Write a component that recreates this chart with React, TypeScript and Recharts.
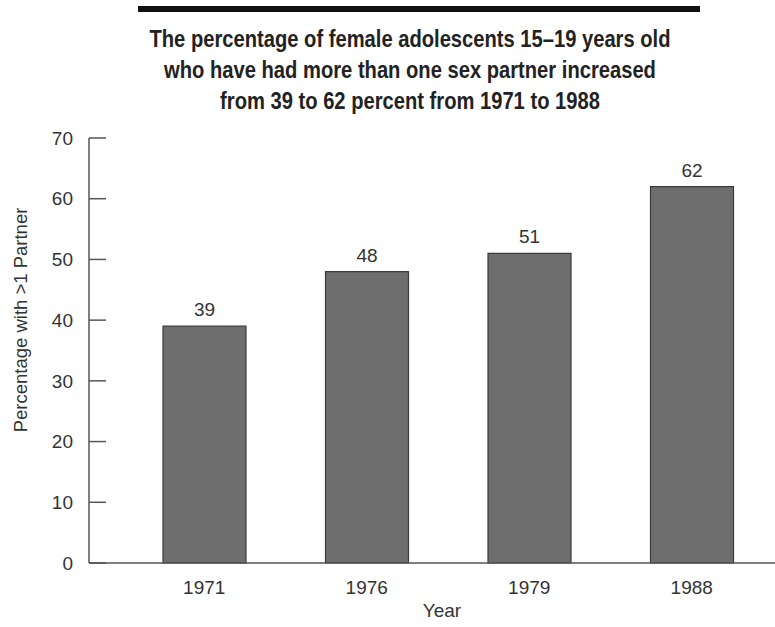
import { BarChart, Bar, XAxis, YAxis, LabelList } from 'recharts'

const years = ['1971', '1976', '1979', '1988']
const percents = [39, 48, 51, 62]
const yTicks = [0, 10, 20, 30, 40, 50, 60, 70]
const titleLines = [
  'The percentage of female adolescents 15\u201319 years old',
  'who have had more than one sex partner increased',
  'from 39 to 62 percent from 1971 to 1988',
]

const data = years.map((year, i) => ({ year, pct: percents[i] }))

const FONT = '"Liberation Sans", Arial, sans-serif'
const INK = '#333'

function YTick({ x, y, payload }: { x?: number; y?: number; payload?: { value: number } }) {
  return (
    <g>
      <line x1={x} x2={(x ?? 0) + 17} y1={y} y2={y} stroke="#555" strokeWidth={1.5} />
      <text x={(x ?? 0) - 16} y={y} dy="0.35em" textAnchor="end" fontSize={19} fontFamily={FONT} fill={INK}>
        {payload?.value}
      </text>
    </g>
  )
}

// rotated axis title, sits a bit above the plot's middle like the original
const yLabel = () => (
  <text
    x={20}
    y={320}
    transform="rotate(-90, 20, 320)"
    textAnchor="middle"
    dominantBaseline="central"
    fontSize={18.5}
    fontFamily={FONT}
    fill={INK}
  >
    Percentage with &gt;1 Partner
  </text>
)

export default function App() {
  return (
    <div style={{ position: 'absolute', left: 0, top: 0, width: 775, height: 627, background: '#fff' }}>
      <div style={{ position: 'absolute', left: 138, top: 6, width: 562, height: 6, background: '#111' }} />
      <div
        style={{
          position: 'absolute',
          left: 0,
          width: 820,
          top: 23,
          textAlign: 'center',
          fontFamily: FONT,
          fontWeight: 'bold',
          fontSize: 24,
          lineHeight: '31px',
          color: '#222',
        }}
      >
        {titleLines.map((t) => (
          <div key={t} style={{ transform: 'scaleX(0.84)', whiteSpace: 'nowrap' }}>
            {t}
          </div>
        ))}
      </div>
      <BarChart
        width={775}
        height={627}
        data={data}
        margin={{ top: 138, right: 0, left: 0, bottom: 24 }}
        style={{ position: 'absolute', left: 0, top: 0 }}
      >
        <XAxis
          dataKey="year"
          height={40}
          padding={{ left: 34, right: 2 }}
          axisLine={{ stroke: '#555', strokeWidth: 1.5 }}
          tickLine={false}
          tickSize={0}
          tickMargin={18}
          tick={{ fontSize: 19, fontFamily: FONT, fill: INK }}
          label={{ value: 'Year', position: 'bottom', offset: 1, dx: 10, fontSize: 19, fontFamily: FONT, fill: INK }}
        />
        <YAxis
          width={89}
          domain={[0, 70]}
          ticks={yTicks}
          interval={0}
          axisLine={{ stroke: '#555', strokeWidth: 1.5 }}
          tickLine={false}
          tickSize={0}
          tickMargin={0}
          tick={<YTick />}
          label={yLabel}
        />
        <Bar dataKey="pct" barSize={83} fill="#6e6e6e" stroke="#3a3a3a" strokeWidth={1.2} isAnimationActive={false}>
          <LabelList dataKey="pct" position="top" offset={10} fontSize={19} fontFamily={FONT} fill={INK} />
        </Bar>
      </BarChart>
    </div>
  )
}
